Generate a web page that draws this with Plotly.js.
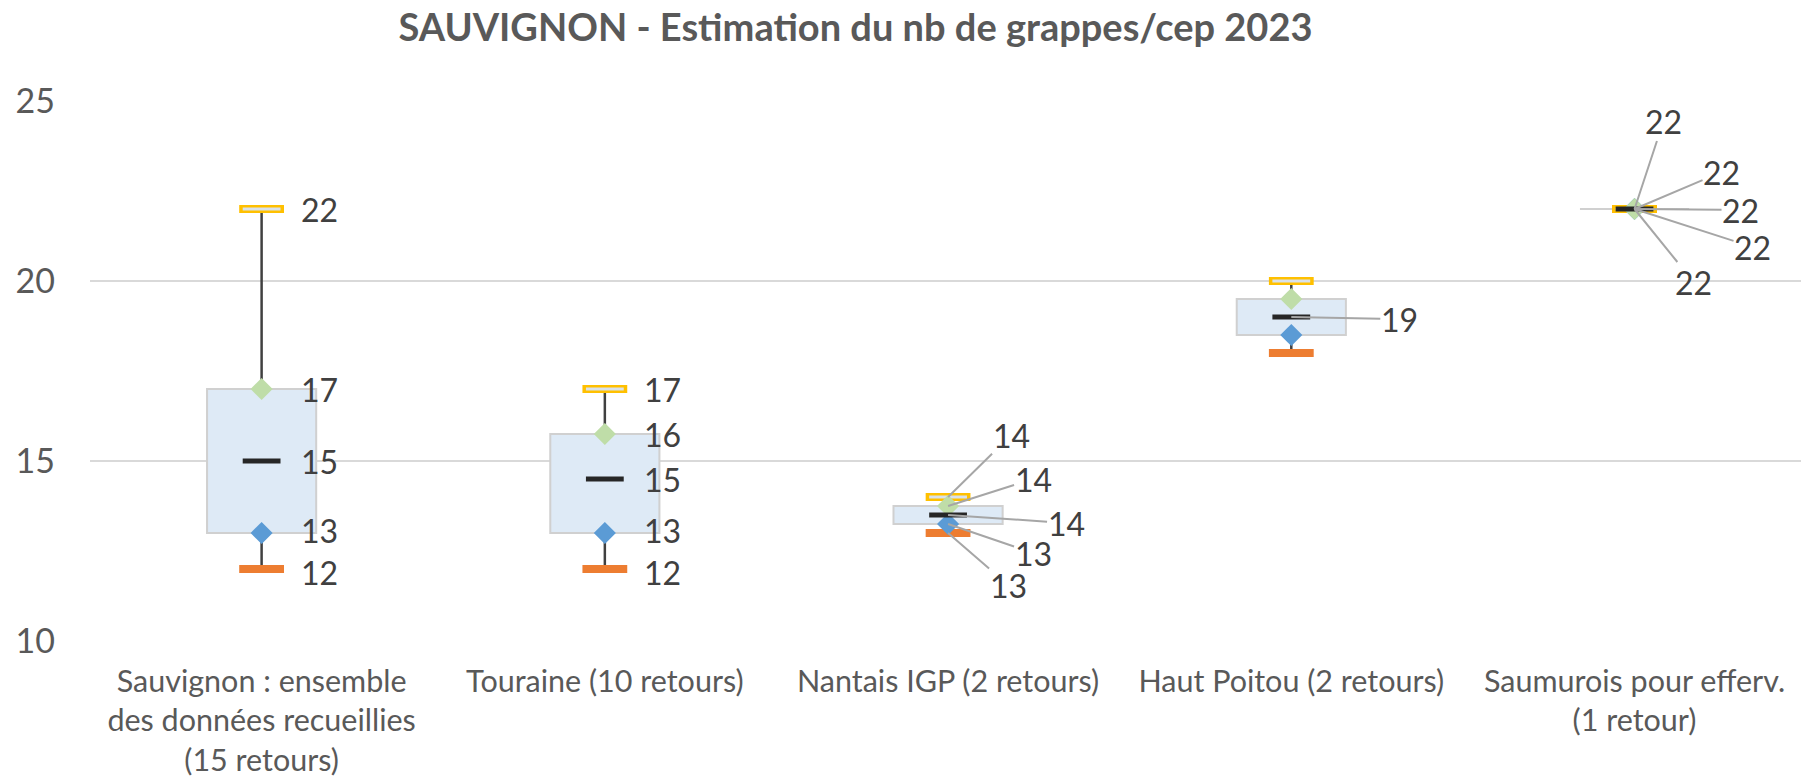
<!DOCTYPE html>
<html>
<head>
<meta charset="utf-8">
<script src="https://cdn.plot.ly/plotly-3.0.1.min.js"></script>
<style>
  html, body { margin: 0; padding: 0; background: #fff; }
  #chart { width: 1801px; height: 781px; }
</style>
</head>
<body>
<div id="chart"></div>
<script>
// Data
const categories = [
  'Sauvignon : ensemble<br>des données recueillies<br>(15 retours)',
  'Touraine (10 retours)',
  'Nantais IGP (2 retours)',
  'Haut Poitou (2 retours)',
  'Saumurois pour efferv.<br>(1 retour)'
];
const minVals = [12, 12, 13, 18, 22];
const q1Vals = [13, 13, 13.25, 18.5, 22];
const medVals = [15, 14.5, 13.5, 19, 22];
const q3Vals = [17, 15.75, 13.75, 19.5, 22];
const maxVals = [22, 17, 14, 20, 22];
const yTicks = [10, 15, 20, 25];

const xIdx = categories.map((c, i) => i);
const font = 'Lato, "Open Sans", sans-serif';

// whisker segments: min -> Q1 and Q3 -> max (box sits on top)
const wx = [], wy = [];
xIdx.forEach(i => {
  wx.push(i, i, null, i, i, null);
  wy.push(minVals[i], q1Vals[i], null, q3Vals[i], maxVals[i], null);
});

const box = {
  type: 'bar',
  x: xIdx,
  base: q1Vals,
  y: q3Vals.map((v, i) => v - q1Vals[i]),
  width: 0.318,
  marker: { color: '#DEEAF6', line: { color: '#D0D0D0', width: 2 } },
  hoverinfo: 'skip'
};
const whisker = {
  type: 'scatter', mode: 'lines', x: wx, y: wy,
  line: { color: '#404040', width: 2.5 }, hoverinfo: 'skip'
};
const dash = (y, color, size, w) => ({
  type: 'scatter', mode: 'markers', x: xIdx, y: y,
  marker: { symbol: 'line-ew', size: size, line: { color: color, width: w } },
  hoverinfo: 'skip'
});
const diamond = (y, color) => ({
  type: 'scatter', mode: 'markers', x: xIdx, y: y,
  marker: { symbol: 'diamond', size: 17, color: color, line: { width: 0 } },
  hoverinfo: 'skip'
});

const traces = [
  box,
  whisker,
  dash(minVals, '#ED7D31', 32, 8),
  dash(maxVals, '#FFC000', 32, 8),
  dash(maxVals, '#D9E1EA', 27, 3),
  diamond(q1Vals, '#5B9BD5'),
  diamond(q3Vals, '#BFDDA8'),
  dash(medVals, '#262626', 27, 5)
];

// labels, top to bottom: max, Q3, median, Q1, min
const stats = [maxVals, q3Vals, medVals, q1Vals, minVals];
const leaderOffsets = {
  2: [[63, -62], [85, -27], [118, 8], [85, 29], [60, 52]],
  3: [null, null, [108, 2], null, null],
  4: [[29, -88], [87, -37], [106, 1], [118, 38], [59, 73]]
};
const plainShift = [0, 0, 0, 3, -3];
const labelFont = { family: font, size: 32, color: '#404040' };
const annotations = [];
xIdx.forEach(i => {
  stats.forEach((arr, k) => {
    const v = arr[i];
    const txt = String(Math.round(v));
    if (leaderOffsets[i]) {
      const off = leaderOffsets[i][k];
      if (!off) return;
      annotations.push({
        x: i, y: v, xref: 'x', yref: 'y', text: txt, font: labelFont,
        showarrow: true, arrowhead: 0, arrowwidth: 2, arrowcolor: '#A6A6A6',
        ax: off[0], ay: off[1], standoff: 0, startstandoff: 0, borderpad: 0
      });
    } else {
      annotations.push({
        x: i, y: v, xref: 'x', yref: 'y', text: txt, font: labelFont,
        showarrow: false, xanchor: 'left', yanchor: 'middle',
        xshift: 38, yshift: plainShift[k], borderpad: 0
      });
    }
  });
});

const layout = {
  width: 1801,
  height: 781,
  margin: { l: 90, r: 0, t: 101, b: 140 },
  paper_bgcolor: '#ffffff',
  plot_bgcolor: '#ffffff',
  showlegend: false,
  barmode: 'overlay',
  font: { family: font, color: '#595959' },
  title: {
    text: '<b>SAUVIGNON - Estimation du nb de grappes/cep 2023</b>',
    font: { family: font, size: 38, color: '#595959' },
    xref: 'container', yref: 'container',
    x: 0.475, y: 0.965, xanchor: 'center', yanchor: 'middle'
  },
  xaxis: {
    range: [-0.5, 4.485],
    tickvals: xIdx,
    ticktext: categories,
    showgrid: false,
    zeroline: false,
    showline: false,
    ticks: '',
    ticklabelstandoff: 19,
    tickfont: { family: font, size: 30.5, color: '#595959' },
    fixedrange: true
  },
  yaxis: {
    range: [10, 25],
    tickvals: yTicks,
    showgrid: true,
    gridcolor: '#D9D9D9',
    gridwidth: 2,
    zeroline: false,
    showline: false,
    ticks: '',
    ticklabelstandoff: 34,
    tickfont: { family: font, size: 34, color: '#595959' },
    fixedrange: true
  },
  annotations: annotations
};

Plotly.newPlot('chart', traces, layout, { displayModeBar: false, staticPlot: true });
</script>
</body>
</html>
